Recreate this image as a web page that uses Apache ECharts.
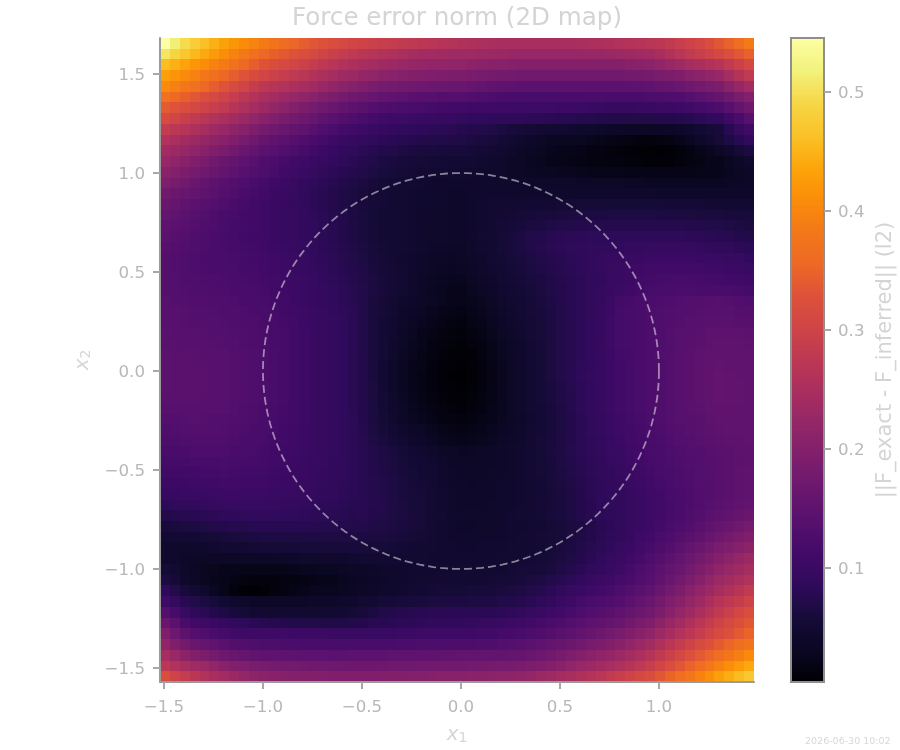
<!DOCTYPE html>
<html>
<head>
<meta charset="utf-8">
<title>Force error norm</title>
<script src="https://cdn.jsdelivr.net/npm/echarts@6/dist/echarts.min.js"></script>
<style>html,body{margin:0;padding:0;background:#fff}#chart{width:900px;height:750px}</style>
</head>
<body>
<div id="chart"></div>
<script>
// Force error norm on a 60 x 60 grid, in thousandths, top row first.
const errorRows = [
[545,515,495,478,462,448,432,420,408,398,385,375,363,352,342,335,328,320,312,305,300,295,290,286,282,278,274,270,266,262,258,255,252,250,248,247,246,246,246,246,247,248,250,252,254,256,259,262,266,270,275,282,290,298,308,320,335,348,365,385],
[505,488,470,455,440,425,410,395,382,368,355,346,337,328,320,311,302,293,285,278,272,266,260,255,250,245,240,238,236,235,235,233,231,230,228,226,225,225,225,225,225,225,225,226,227,228,230,233,236,240,248,258,270,280,290,300,310,322,334,345],
[460,447,433,420,408,396,385,370,356,343,330,321,312,303,295,286,277,268,260,254,248,241,235,231,227,223,220,218,216,215,215,211,208,205,203,201,200,200,200,200,200,200,200,200,200,200,200,203,206,210,218,226,235,243,250,258,265,280,295,310],
[430,418,406,395,381,368,355,342,330,317,305,296,287,278,270,261,252,243,235,229,222,216,210,206,202,198,195,193,191,190,190,186,183,180,178,176,175,175,175,175,175,175,175,175,175,175,175,176,178,180,184,189,195,203,210,218,225,243,262,280],
[405,393,381,370,356,343,330,316,302,288,275,267,260,252,245,236,227,218,210,202,195,187,180,177,175,172,170,168,166,165,165,160,155,150,148,146,145,145,145,145,145,145,145,145,145,145,145,146,148,150,155,160,165,171,178,184,190,207,224,240],
[370,358,346,335,323,312,300,287,275,262,250,241,232,224,215,206,197,189,180,173,167,161,155,151,147,144,140,138,136,135,135,132,128,125,123,122,120,120,120,120,121,122,123,124,124,122,121,122,123,125,127,128,130,137,145,152,160,173,187,200],
[340,330,320,310,300,290,280,267,255,242,230,220,210,200,190,181,172,164,155,148,142,136,130,127,124,121,118,116,114,112,110,108,106,105,105,105,105,105,105,105,104,103,102,100,98,96,95,96,98,100,102,103,105,110,115,120,125,140,155,170],
[315,303,291,280,270,260,250,239,228,216,205,196,187,179,170,161,152,144,135,129,122,116,110,107,105,102,100,99,97,95,92,90,87,85,85,85,85,83,82,80,78,77,75,74,72,71,70,70,70,70,72,73,75,78,82,86,90,107,123,140],
[285,275,265,255,245,235,225,214,203,191,180,172,165,157,150,141,132,124,115,110,105,100,95,92,90,87,85,83,81,79,75,73,70,68,64,60,55,53,52,50,48,47,45,42,39,37,35,35,35,35,37,38,40,45,50,55,60,77,93,110],
[260,250,240,230,222,213,205,194,183,171,160,152,145,137,130,122,115,107,100,96,92,87,83,80,77,75,72,71,70,69,68,64,61,58,53,49,45,41,36,32,31,30,30,26,22,20,18,15,13,12,14,18,25,32,40,47,55,67,78,90],
[240,232,223,215,205,195,185,175,165,155,145,138,131,125,118,111,104,97,90,86,81,77,72,70,67,65,62,61,60,60,60,56,53,50,46,42,38,34,30,26,24,22,20,17,14,12,10,9,7,6,5,7,10,16,23,29,35,45,55,65],
[225,215,205,195,185,175,165,156,147,139,130,124,117,111,105,100,95,90,85,80,75,70,65,62,60,57,55,54,53,52,52,50,47,45,42,38,35,32,28,25,23,20,18,16,15,13,12,11,10,8,8,9,12,15,18,22,25,32,38,45],
[208,199,189,180,172,163,155,147,140,132,125,118,111,105,98,93,88,83,78,74,70,66,62,59,56,53,50,49,48,47,47,46,45,45,42,38,35,33,32,30,29,27,26,25,24,23,22,21,20,20,20,20,20,21,22,24,25,29,33,38],
[192,183,174,165,157,148,140,134,128,121,115,108,102,96,90,85,81,76,72,68,64,60,56,54,52,49,47,45,44,43,43,44,45,45,43,42,40,40,40,40,40,39,38,37,36,36,35,34,33,32,31,31,30,30,31,31,32,33,34,35],
[175,168,161,155,148,142,135,129,122,116,110,104,99,93,88,83,78,73,68,64,60,57,53,51,49,47,45,44,43,41,41,43,44,45,45,45,45,45,45,45,45,45,45,45,45,45,45,44,43,42,41,41,40,40,40,40,40,40,40,40],
[165,158,152,145,139,134,128,122,116,111,105,100,96,92,88,83,78,73,68,64,60,57,53,51,49,47,45,44,42,41,40,43,46,48,49,49,50,51,51,52,53,54,55,55,56,56,56,56,56,56,55,54,54,53,53,52,52,51,51,50],
[158,151,145,138,133,127,122,118,114,109,105,101,97,94,90,85,80,75,70,65,61,56,52,50,48,46,44,43,42,41,40,43,46,48,50,53,55,57,58,60,62,63,64,65,65,66,66,66,66,66,65,65,64,63,62,62,61,60,59,58],
[150,145,140,135,130,125,120,116,113,109,105,101,97,94,90,86,81,77,72,67,62,57,52,50,48,46,44,43,42,41,40,43,47,50,53,57,60,63,65,68,70,72,73,74,74,75,75,75,75,75,75,75,74,73,72,71,70,68,66,64],
[145,140,135,130,126,122,118,115,112,108,105,101,97,94,90,86,81,77,72,67,62,57,52,50,48,46,44,43,42,40,40,44,48,52,56,60,65,70,73,77,80,82,83,84,84,84,84,84,84,84,84,84,84,83,82,80,78,76,73,70],
[140,136,132,128,125,121,118,116,113,111,108,104,100,96,92,88,83,79,74,69,64,59,54,51,48,46,43,41,39,37,38,42,46,50,55,60,65,70,75,79,82,84,85,87,88,89,90,91,92,93,94,94,94,93,92,90,88,86,83,80],
[135,132,128,125,123,122,120,118,115,113,110,106,102,99,95,90,85,81,76,71,66,60,55,51,47,44,40,37,35,33,35,40,45,49,54,58,62,66,70,74,78,82,85,88,92,95,96,98,100,102,103,103,103,102,101,100,98,96,93,90],
[135,132,128,125,124,123,122,120,117,115,112,108,104,101,97,92,87,83,78,73,68,62,57,53,48,44,40,36,33,31,33,38,42,47,52,56,60,64,68,72,76,80,84,88,92,96,100,103,106,109,111,112,112,111,110,108,106,104,102,100],
[135,133,130,128,127,125,124,122,119,117,114,110,106,102,98,94,89,85,80,75,69,64,58,53,48,43,38,34,31,28,29,34,39,44,49,53,57,61,65,69,74,78,82,86,90,94,99,104,109,113,116,118,118,118,117,116,114,112,110,108],
[135,133,132,130,128,127,126,123,120,118,115,111,107,103,99,95,91,86,82,76,71,65,60,54,48,42,36,32,28,25,25,30,35,41,46,50,54,58,63,68,73,78,83,88,92,96,102,108,113,118,121,123,124,124,123,122,122,120,118,116],
[138,136,134,132,131,129,128,125,123,120,118,113,109,104,100,96,92,87,83,77,70,62,55,49,43,40,36,33,29,25,22,26,30,37,43,48,52,57,62,67,73,78,83,88,92,102,113,117,120,124,127,129,132,134,135,137,138,135,131,128],
[140,138,137,135,133,132,130,128,125,123,120,116,111,107,102,98,94,89,85,79,70,62,55,48,41,37,33,29,25,21,18,23,27,34,41,46,50,55,60,65,71,77,83,88,93,104,115,118,122,125,128,131,134,136,137,139,140,138,136,135],
[140,139,137,136,135,133,132,130,127,125,122,118,113,109,104,100,95,91,86,80,70,62,54,47,39,34,29,25,20,16,13,19,24,31,38,44,49,54,59,64,71,77,83,89,94,105,116,119,122,125,129,132,136,138,140,142,144,143,141,140],
[142,141,139,138,137,135,134,132,129,127,124,119,115,110,105,101,96,92,87,80,70,62,54,46,37,31,25,20,15,12,10,15,20,27,35,41,47,53,58,64,70,76,82,89,95,105,116,119,123,126,130,134,138,141,143,146,148,147,146,145],
[143,142,141,140,139,137,136,133,130,127,124,119,115,110,105,101,96,92,87,80,71,62,53,44,35,29,23,17,13,10,8,12,17,24,32,38,45,52,57,63,70,76,82,89,96,105,115,119,122,126,130,134,138,141,144,147,150,149,149,148],
[145,144,143,142,141,139,138,135,132,128,125,120,115,110,105,101,96,92,87,79,71,62,53,43,33,27,21,15,11,8,6,9,15,22,30,37,44,50,56,63,70,76,83,90,96,104,113,117,122,126,131,135,140,143,146,149,152,151,151,150],
[145,144,144,143,142,141,140,136,132,129,125,120,115,110,105,101,96,92,87,79,72,62,52,41,32,25,19,13,9,6,5,8,13,20,28,35,43,50,56,63,70,77,84,90,97,104,112,116,121,125,130,135,140,143,147,150,153,152,151,150],
[145,144,144,143,142,141,140,136,132,129,125,120,115,110,105,101,96,92,87,79,72,62,52,41,30,24,18,13,8,5,4,7,12,19,27,35,42,49,56,63,70,77,84,91,97,104,112,116,121,125,130,135,140,144,148,151,155,153,152,150],
[145,144,144,143,142,141,140,136,132,129,125,120,115,110,105,101,96,92,87,79,72,63,52,41,31,24,18,13,9,6,5,8,13,20,27,35,42,49,56,62,69,76,83,90,96,103,110,115,120,125,130,135,140,144,148,151,155,154,153,152],
[142,142,143,143,141,140,138,135,132,128,125,120,115,110,105,101,96,92,87,79,72,63,53,42,33,26,20,15,11,8,7,10,15,21,28,35,42,48,55,61,68,75,82,89,95,102,110,115,120,125,130,135,140,144,148,151,155,154,153,152],
[140,140,140,140,139,139,138,134,130,127,123,118,114,109,105,100,96,91,87,80,73,64,54,44,35,28,23,18,14,11,9,12,17,23,29,36,42,48,54,60,67,74,81,88,94,102,110,115,120,125,129,134,138,142,145,149,152,152,152,152],
[135,136,137,138,137,136,135,132,128,125,122,118,113,109,105,100,96,91,87,81,73,64,56,47,38,32,26,21,17,14,12,16,20,25,30,36,41,47,53,59,66,73,80,86,92,100,108,113,119,124,129,133,138,141,144,147,150,150,150,150],
[130,132,133,135,134,133,132,129,126,123,120,116,112,108,104,100,96,91,87,82,75,67,59,51,44,38,33,27,23,20,18,21,24,28,33,38,43,48,54,60,66,73,80,86,91,98,105,111,116,122,126,131,135,138,142,145,148,149,149,150],
[125,127,128,130,129,129,128,126,123,121,118,114,111,107,104,100,96,91,87,82,76,69,62,54,50,44,40,34,29,26,25,26,28,32,36,40,45,49,55,60,67,73,80,85,90,97,103,109,114,120,124,129,133,136,139,142,145,147,148,150],
[120,122,123,125,125,125,125,123,120,118,115,112,108,105,102,98,94,91,87,83,78,72,66,61,56,51,47,42,38,35,32,33,35,37,40,43,47,51,56,61,67,74,80,85,90,95,100,106,112,118,122,126,130,133,136,139,142,144,146,148],
[115,116,117,118,119,119,120,118,116,115,113,110,106,103,100,96,93,89,86,82,78,73,68,63,58,54,50,46,42,38,35,35,36,38,41,44,47,51,56,60,66,72,78,83,88,92,97,103,109,115,119,124,128,131,134,137,140,143,145,148],
[110,111,111,112,113,114,115,114,112,111,110,107,104,101,98,95,92,89,86,83,78,73,69,65,60,56,52,48,44,40,37,37,37,39,41,44,47,51,55,59,65,70,76,81,86,90,95,101,107,113,118,122,127,130,133,137,140,143,147,150],
[103,103,104,105,107,108,110,109,108,107,106,104,101,99,96,93,91,88,85,82,78,74,70,66,61,57,54,49,45,41,39,38,39,40,42,44,47,50,54,58,63,69,75,80,85,88,92,98,104,110,115,120,125,129,133,136,140,143,147,150],
[95,97,98,100,101,102,103,103,103,102,102,100,98,96,94,91,88,86,83,80,78,75,72,67,62,58,55,50,46,42,40,40,40,41,42,44,46,49,53,57,62,67,73,79,85,87,90,96,101,107,112,118,123,127,131,136,140,143,147,150],
[85,87,88,90,92,93,95,95,95,95,95,94,92,91,90,87,85,82,80,78,77,74,72,67,63,59,56,51,47,43,41,41,41,42,43,45,47,50,53,57,62,67,73,78,84,86,88,94,99,105,111,116,122,127,132,137,142,146,151,155],
[72,74,76,78,80,82,84,85,86,87,88,87,87,86,85,83,81,79,77,75,76,73,70,67,63,60,57,52,48,45,42,42,43,43,44,46,48,50,54,58,62,67,72,78,83,85,87,93,99,105,111,117,123,129,135,142,148,154,159,165],
[60,62,63,65,68,70,73,74,75,77,78,78,78,77,77,76,75,74,73,71,70,68,67,64,61,58,55,51,47,43,40,41,42,43,44,46,47,49,52,54,58,63,67,72,78,83,88,94,101,107,114,120,127,135,142,150,158,165,173,180],
[50,51,51,52,55,57,60,62,63,65,66,66,67,67,67,67,67,67,67,66,65,64,63,61,58,56,53,50,47,44,42,43,44,44,45,47,48,50,53,55,59,64,68,73,79,84,90,97,105,112,120,127,135,144,152,161,170,178,187,195],
[44,44,43,43,44,46,48,50,52,53,55,56,57,57,58,58,59,59,60,60,59,59,58,56,54,52,50,48,47,46,45,45,46,46,47,48,50,52,54,56,61,65,70,76,81,87,93,101,110,118,127,136,145,155,165,175,185,193,202,210],
[45,42,38,35,35,35,35,35,35,36,37,38,39,41,42,43,44,44,45,46,48,49,50,50,49,49,48,47,47,46,46,46,47,47,49,50,52,54,56,58,63,68,73,80,86,93,100,108,117,125,135,145,155,166,178,189,200,210,220,230],
[55,48,40,34,30,27,25,23,22,22,22,22,24,26,28,29,30,32,33,35,38,40,42,44,45,46,47,47,48,48,48,49,49,50,52,53,55,57,60,62,68,74,80,86,92,99,105,115,125,135,145,155,165,177,190,202,215,225,235,245],
[65,55,45,36,30,26,22,18,15,13,12,12,14,16,18,20,23,25,28,31,34,37,40,42,44,46,48,49,50,50,50,51,52,53,55,57,60,63,66,70,76,83,90,96,102,108,115,123,132,140,152,163,175,188,202,216,230,240,250,260],
[85,72,60,50,42,32,22,12,7,5,7,12,17,21,25,27,28,29,30,33,36,40,43,45,47,50,52,53,55,56,56,58,59,60,62,64,66,71,75,80,87,93,100,106,112,118,125,133,142,150,163,177,190,204,218,231,245,257,268,280],
[105,92,78,70,65,58,50,45,42,38,35,35,36,37,38,39,40,41,42,45,49,52,55,57,58,60,62,63,64,65,65,66,66,67,70,72,75,80,85,90,98,106,115,120,125,130,135,145,155,165,178,192,205,220,235,250,265,277,288,300],
[135,118,100,85,80,73,66,60,56,52,48,48,48,48,48,49,49,50,50,55,60,65,70,72,74,76,78,79,80,80,80,80,80,80,83,85,88,94,100,105,112,118,125,131,137,143,150,158,167,175,190,205,220,235,250,265,280,293,307,320],
[165,145,122,110,105,98,92,87,84,80,76,75,73,71,70,70,69,69,68,71,73,76,78,80,82,83,85,87,88,89,90,92,93,95,98,102,105,110,115,120,127,133,140,146,152,158,165,175,185,195,210,225,240,255,270,285,300,312,323,335],
[195,170,148,135,130,122,115,111,108,106,105,105,105,104,103,103,102,101,100,100,100,100,100,101,102,103,105,105,105,105,105,107,110,112,115,117,120,125,130,135,142,148,155,162,170,177,185,195,205,215,230,245,260,274,287,301,315,327,338,350],
[215,195,178,165,160,150,142,136,131,128,126,125,124,124,123,122,122,121,120,120,120,121,122,123,124,124,125,125,125,125,125,127,128,130,133,137,140,145,150,155,162,168,175,182,190,197,205,217,228,240,255,270,285,299,313,326,340,352,364,375],
[245,228,210,198,190,180,170,163,158,154,151,150,149,148,147,146,146,145,145,146,146,147,148,149,149,150,150,152,153,154,155,155,155,155,157,158,160,165,170,175,183,191,200,207,215,222,230,242,253,265,280,295,310,324,338,351,365,378,392,405],
[275,260,247,237,230,218,205,198,192,187,183,180,178,176,174,172,171,171,170,170,170,170,170,171,172,173,174,175,175,175,175,177,178,180,182,183,185,190,195,200,208,217,225,232,240,247,255,267,278,290,305,320,335,350,365,380,395,410,425,440],
[320,300,285,272,260,248,238,228,220,213,208,205,202,200,198,197,196,195,195,195,195,195,196,197,198,199,200,202,203,204,205,207,208,210,212,214,215,222,228,235,242,248,255,262,270,280,290,300,310,320,335,350,365,380,395,412,430,445,458,470]
];

// Field axis layout.
const xLimits = [-1.52, 1.48];
const yLimits = [-1.571, 1.682];
const xTicks = [-1.5, -1.0, -0.5, 0, 0.5, 1.0];
const yTicks = [-1.5, -1.0, -0.5, 0, 0.5, 1.0, 1.5];
const barTicks = [0.1, 0.2, 0.3, 0.4, 0.5];
const errorRange = [0.004, 0.545];
const circleRadius = 1;

// Inferno colormap stops.
const inferno = ['#000004','#0a0722','#160b39','#2f0a5b','#420a68','#57106e','#6a176e','#7f1e6c','#932667','#a82e5f','#bc3754','#cf4446','#dd513a','#ed6925','#f37819','#fb8d09','#fca50a','#fac228','#f6d746','#f2f27d','#fcffa4'];

const uiFont = '"DejaVu Sans", sans-serif';
const nCols = errorRows[0].length;
const nRows = errorRows.length;
const dx = (xLimits[1] - xLimits[0]) / nCols;
const dy = (yLimits[1] - yLimits[0]) / nRows;

const cells = [];
errorRows.forEach((row, j) => row.forEach((v, i) => {
  cells.push([xLimits[0] + (i + 0.5) * dx, yLimits[1] - (j + 0.5) * dy, v / 1000]);
}));

// Evenly spaced levels for the colour bar.
const barSteps = 256;
const barStep = (errorRange[1] - errorRange[0]) / barSteps;
const barLevels = [];
for (let k = 0; k < barSteps; k++) {
  const level = errorRange[0] + (k + 0.5) * barStep;
  barLevels.push([0.5, level, level]);
}

// Unit circle outline.
const circlePts = [];
for (let a = 0; a <= 360; a += 2) {
  const t = a * Math.PI / 180;
  circlePts.push([circleRadius * Math.cos(t), circleRadius * Math.sin(t)]);
}

const signed = v => (v < 0 ? '\u2212' : '') + Math.abs(v).toFixed(1);

// Rectangles are snapped to whole pixels so neighbouring cells leave no seams.
function snappedRect(x0, y0, x1, y1, fill) {
  const l = Math.round(x0), t = Math.round(y0);
  return { type: 'rect', shape: { x: l, y: t, width: Math.round(x1) - l, height: Math.round(y1) - t },
           style: { fill: fill } };
}
function cellItem(params, api) {
  const c = api.coord([api.value(0) - dx / 2, api.value(1) + dy / 2]);
  const s = api.size([dx, dy]);
  return snappedRect(c[0], c[1], c[0] + s[0], c[1] + s[1], api.visual('color'));
}
function barItem(params, api) {
  const c = api.coord([0, api.value(1) + barStep / 2]);
  const s = api.size([1, barStep]);
  return snappedRect(c[0], c[1], c[0] + s[0], c[1] + s[1] + 0.5, api.visual('color'));
}

const tickStyle = { color: '#a8a8a8', width: 2 };
const labelStyle = { color: '#b8b8b8', fontSize: 16.67, fontFamily: uiFont };
// Side-axis labels sit a little below their ticks.
const sideLabelRich = { t: { ...labelStyle, padding: [4, 0, 0, 0] } };
const subscriptName = { i: { fontStyle: 'italic', fontSize: 20, color: '#d6d6d6', fontFamily: uiFont },
                        s: { fontSize: 14, color: '#d6d6d6', fontFamily: uiFont, verticalAlign: 'bottom', padding: [7, 0, 0, 0] } };

const option = {
  animation: false,
  backgroundColor: '#ffffff',
  title: [
    { text: 'Force error norm (2D map)', left: 452, top: 1, textAlign: 'center',
      textStyle: { color: '#d4d4d4', fontSize: 24.6, fontWeight: 'normal', fontFamily: uiFont } },
    { text: '2026-06-30 10:02', left: 800, top: 732,
      textStyle: { color: '#d8d8d8', fontSize: 9.5, fontWeight: 'normal', fontFamily: uiFont } }
  ],
  visualMap: {
    show: false, seriesIndex: [0, 2], dimension: 2,
    min: errorRange[0], max: errorRange[1],
    inRange: { color: inferno }
  },
  grid: [
    { left: 160, top: 38, width: 594, height: 644 },
    { left: 791, top: 38, width: 33, height: 644, show: true, z: 5,
      backgroundColor: 'transparent', borderColor: '#8f8f8f', borderWidth: 2 }
  ],
  xAxis: [
    { type: 'value', gridIndex: 0, min: xLimits[0], max: xLimits[1], z: 5, position: 'bottom',
      splitLine: { show: false },
      axisLine: { show: true, onZero: false, lineStyle: { color: '#9a9a9a', width: 2 } },
      axisTick: { show: true, customValues: xTicks, length: 7, lineStyle: tickStyle },
      axisLabel: { show: true, customValues: xTicks, margin: 17, formatter: signed, ...labelStyle },
      name: '{i|x}{s|1}', nameLocation: 'middle', nameGap: 42, nameTextStyle: { rich: subscriptName } },
    { type: 'value', gridIndex: 1, min: 0, max: 1, show: false }
  ],
  yAxis: [
    { type: 'value', gridIndex: 0, min: yLimits[0], max: yLimits[1], z: 5, position: 'left',
      splitLine: { show: false },
      axisLine: { show: true, onZero: false, lineStyle: { color: '#9a9a9a', width: 2 } },
      axisTick: { show: true, customValues: yTicks, length: 7, lineStyle: tickStyle },
      axisLabel: { show: true, customValues: yTicks, margin: 15, formatter: v => '{t|' + signed(v) + '}', rich: sideLabelRich },
      name: '{i|x}{s|2}', nameLocation: 'middle', nameGap: 63, nameRotate: 90, nameTextStyle: { rich: subscriptName } },
    { type: 'value', gridIndex: 1, min: errorRange[0], max: errorRange[1], z: 5, position: 'right',
      splitLine: { show: false },
      axisLine: { show: false, onZero: false },
      axisTick: { show: true, customValues: barTicks, length: 7, lineStyle: tickStyle },
      axisLabel: { show: true, customValues: barTicks, margin: 14, formatter: v => '{t|' + v.toFixed(1) + '}', rich: sideLabelRich },
      name: '||F_exact - F_inferred|| (l2)', nameLocation: 'middle', nameGap: 51, nameRotate: 90,
      nameTextStyle: { color: '#d4d4d4', fontSize: 21, fontFamily: uiFont } }
  ],
  series: [
    { type: 'custom', xAxisIndex: 0, yAxisIndex: 0, renderItem: cellItem, data: cells,
      encode: { x: 0, y: 1 }, clip: true, silent: true, progressive: 0 },
    { type: 'line', xAxisIndex: 0, yAxisIndex: 0, data: circlePts, showSymbol: false, symbol: 'none', z: 4,
      silent: true, lineStyle: { color: 'rgba(255,255,255,0.5)', width: 1.8, type: [8, 4] } },
    { type: 'custom', xAxisIndex: 1, yAxisIndex: 1, renderItem: barItem, data: barLevels,
      encode: { x: 0, y: 1 }, clip: true, silent: true, progressive: 0 }
  ]
};

const chart = echarts.init(document.getElementById('chart'), null, { renderer: 'canvas' });
chart.setOption(option);
</script>
</body>
</html>
